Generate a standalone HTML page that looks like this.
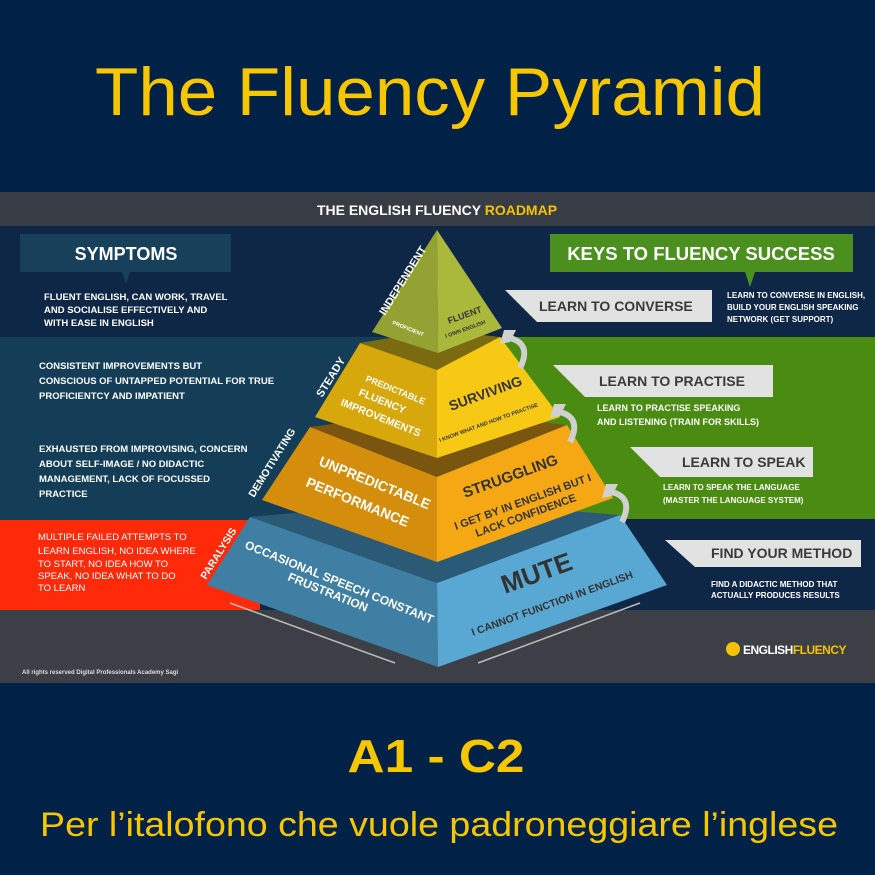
<!DOCTYPE html>
<html><head><meta charset="utf-8"><style>
html,body{margin:0;padding:0;background:#012246;}
svg{display:block;}
text{font-family:"Liberation Sans",sans-serif;}
</style></head><body>
<svg width="875" height="875" viewBox="0 0 875 875" xmlns="http://www.w3.org/2000/svg">
<rect width="875" height="875" fill="#012246"/>
<text x="430" y="115" text-anchor="middle" font-size="68" fill="#f6c700" textLength="670" lengthAdjust="spacingAndGlyphs">The Fluency Pyramid</text>

<rect x="0" y="192" width="875" height="491" fill="#0f2747"/>
<rect x="0" y="192" width="875" height="34" fill="#383d45"/>
<text x="437" y="215" text-anchor="middle" font-size="14" font-weight="bold" fill="#fff">THE ENGLISH FLUENCY <tspan fill="#f3c300">ROADMAP</tspan></text>
<rect x="0" y="337" width="440" height="183" fill="#143e58"/>
<rect x="440" y="337" width="435" height="182" fill="#4a8c12"/>
<rect x="0" y="520" width="260" height="90" fill="#ff2a0a"/>
<rect x="0" y="610" width="875" height="73" fill="#3c3f46"/>

<rect x="20" y="234" width="211" height="38" fill="#17405a"/>
<polygon points="122,272 130,272 126,284" fill="#17405a"/>
<text x="126" y="260" text-anchor="middle" font-size="18" font-weight="bold" fill="#fff">SYMPTOMS</text>
<g font-size="9.5" font-weight="bold" fill="#fff">
<text x="44" y="300">FLUENT ENGLISH, CAN WORK, TRAVEL</text>
<text x="44" y="313">AND SOCIALISE EFFECTIVELY AND</text>
<text x="44" y="326">WITH EASE IN ENGLISH</text>
<text x="39" y="369">CONSISTENT IMPROVEMENTS BUT</text>
<text x="39" y="384">CONSCIOUS OF UNTAPPED POTENTIAL FOR TRUE</text>
<text x="39" y="399">PROFICIENTCY AND IMPATIENT</text>
<text x="39" y="452">EXHAUSTED FROM IMPROVISING, CONCERN</text>
<text x="39" y="467">ABOUT SELF-IMAGE / NO DIDACTIC</text>
<text x="39" y="482">MANAGEMENT, LACK OF FOCUSSED</text>
<text x="39" y="497">PRACTICE</text>
<text x="38" y="540" font-weight="normal">MULTIPLE FAILED ATTEMPTS TO</text>
<text x="38" y="554" font-weight="normal">LEARN ENGLISH, NO IDEA WHERE</text>
<text x="38" y="567" font-weight="normal">TO START, NO IDEA HOW TO</text>
<text x="38" y="579" font-weight="normal">SPEAK, NO IDEA WHAT TO DO</text>
<text x="38" y="591" font-weight="normal">TO LEARN</text>
</g>
<text x="22" y="674" font-size="6" font-weight="bold" fill="#ddd">All rights reserved Digital Professionals Academy Sagi</text>

<rect x="550" y="234" width="303" height="38" fill="#4b8f1e"/>
<polygon points="745,272 755,272 750,287" fill="#4b8f1e"/>
<text x="701" y="260" text-anchor="middle" font-size="18.5" font-weight="bold" fill="#fff">KEYS TO FLUENCY SUCCESS</text>
<g fill="#e2e2e2">
<polygon points="505,290 712,290 712,322 537,322"/>
<polygon points="553,365 773,365 773,397 585,397"/>
<polygon points="630,447 813,447 813,477 660,477"/>
<polygon points="665,540 861,540 861,567 695,567"/>
</g>
<g font-size="14" font-weight="bold" fill="#3a3a3a">
<text x="539" y="311">LEARN TO CONVERSE</text>
<text x="599" y="386">LEARN TO PRACTISE</text>
<text x="682" y="467">LEARN TO SPEAK</text>
<text x="711" y="558">FIND YOUR METHOD</text>
</g>
<g font-size="8" font-weight="bold" fill="#fff">
<text x="727" y="298">LEARN TO CONVERSE IN ENGLISH,</text>
<text x="727" y="310">BUILD YOUR ENGLISH SPEAKING</text>
<text x="727" y="322">NETWORK (GET SUPPORT)</text>
<text x="597" y="411" font-size="9">LEARN TO PRACTISE SPEAKING</text>
<text x="597" y="425" font-size="9">AND LISTENING (TRAIN FOR SKILLS)</text>
<text x="663" y="490">LEARN TO SPEAK THE LANGUAGE</text>
<text x="663" y="503">(MASTER THE LANGUAGE SYSTEM)</text>
<text x="711" y="587">FIND A DIDACTIC METHOD THAT</text>
<text x="711" y="598">ACTUALLY PRODUCES RESULTS</text>
</g>
<circle cx="733" cy="649" r="7" fill="#f3c300"/>
<text x="743" y="654" font-size="12" font-weight="bold" fill="#fff" letter-spacing="-0.5">ENGLISH<tspan fill="#f3c300">FLUENCY</tspan></text>

<polygon points="250,517 437,500 620,515 437,583" fill="#2a5a75"/>
<polygon points="310,427 437,410 567,425 437,477" fill="#7a5510"/>
<polygon points="360,343 437,330 500,337 437,370" fill="#7a6a10"/>
<polygon points="250,517 437,583 438,667 207,585" fill="#3f7fa3"/>
<polygon points="437,583 620,515 667,585 438,667" fill="#59a8d3"/>
<polygon points="310,427 437,477 437,562 262,500" fill="#d48e0c"/>
<polygon points="437,477 567,425 613,498 437,562" fill="#f5a814"/>
<polygon points="360,343 437,370 437,458 315,417" fill="#d7a80c"/>
<polygon points="437,370 500,337 560,417 437,458" fill="#f7c915"/>
<polygon points="437,230 372,332 438,353" fill="#93a232"/>
<polygon points="437,230 438,353 502,328" fill="#aab83b"/>
<line x1="230" y1="603" x2="395" y2="663" stroke="#bbb" stroke-width="1.5"/>
<line x1="478" y1="663" x2="640" y2="603" stroke="#bbb" stroke-width="1.5"/>
<g fill="none" stroke="#d0d0d0" stroke-width="6">
<path d="M510,338 q22,6 10,30"/>
<path d="M560,412 q22,6 10,30"/>
<path d="M612,492 q22,6 10,30"/>
</g>
<g fill="#d0d0d0">
<polygon points="504,330 516,330 510,342 500,344"/>
<polygon points="554,404 566,404 560,416 550,418"/>
<polygon points="606,484 618,484 612,496 602,498"/>
</g>

<g font-weight="bold" fill="#fff">
<text transform="translate(385,316) rotate(-58)" font-size="11">INDEPENDENT</text>
<text transform="translate(322,398) rotate(-58)" font-size="11">STEADY</text>
<text transform="translate(254,498) rotate(-58)" font-size="10.5">DEMOTIVATING</text>
<text transform="translate(206,580) rotate(-58)" font-size="10.5">PARALYSIS</text>
<text transform="translate(392,324) rotate(22)" font-size="5.5">PROFICIENT</text>
<text transform="translate(365,381) rotate(22)" font-size="9">PREDICTABLE</text>
<text transform="translate(358,395) rotate(22)" font-size="10.5">FLUENCY</text>
<text transform="translate(340,405) rotate(22)" font-size="10.5">IMPROVEMENTS</text>
<text transform="translate(318,465) rotate(22)" font-size="14">UNPREDICTABLE</text>
<text transform="translate(305,486) rotate(22)" font-size="14">PERFORMANCE</text>
<text transform="translate(244,548) rotate(22)" font-size="12">OCCASIONAL SPEECH CONSTANT</text>
<text transform="translate(287,580) rotate(22)" font-size="12">FRUSTRATION</text>
</g>
<g font-weight="bold" fill="#333">
<text transform="translate(449,324) rotate(-20)" font-size="9">FLUENT</text>
<text transform="translate(446,338) rotate(-20)" font-size="5.5">I OWN ENGLISH</text>
<text transform="translate(451,411) rotate(-20)" font-size="14">SURVIVING</text>
<text transform="translate(440,442) rotate(-20)" font-size="5.5">I KNOW WHAT AND HOW TO PRACTISE</text>
<text transform="translate(465,498) rotate(-20)" font-size="15">STRUGGLING</text>
<text transform="translate(456,530) rotate(-20)" font-size="11">I GET BY IN ENGLISH BUT I</text>
<text transform="translate(477,537) rotate(-20)" font-size="11">LACK CONFIDENCE</text>
<text transform="translate(505,594) rotate(-20)" font-size="26">MUTE</text>
<text transform="translate(473,636) rotate(-20)" font-size="10.5">I CANNOT FUNCTION IN ENGLISH</text>
</g>

<text x="436" y="772" text-anchor="middle" font-size="46" font-weight="bold" fill="#f6c700" textLength="177" lengthAdjust="spacingAndGlyphs">A1 - C2</text>
<text x="439" y="836" text-anchor="middle" font-size="34" fill="#f6c700" textLength="798" lengthAdjust="spacingAndGlyphs">Per l’italofono che vuole padroneggiare l’inglese</text>
</svg>
</body></html>
